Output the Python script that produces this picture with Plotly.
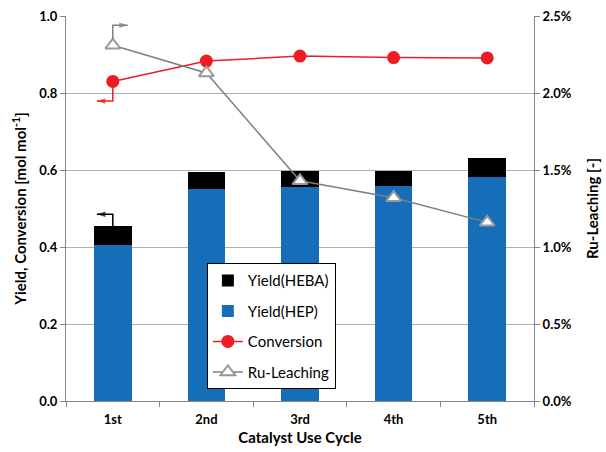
import plotly.graph_objects as go

# Catalyst recycling data
cycles = ["1st", "2nd", "3rd", "4th", "5th"]
yield_hep = [0.405, 0.551, 0.556, 0.559, 0.581]
yield_heba = [0.049, 0.044, 0.041, 0.038, 0.050]
conversion = [0.830, 0.883, 0.896, 0.892, 0.891]
ru_leaching = [0.0231, 0.0213, 0.0143, 0.0132, 0.0116]

left_ticks = [0.0, 0.2, 0.4, 0.6, 0.8, 1.0]
right_ticks = [0.0, 0.005, 0.010, 0.015, 0.020, 0.025]

BLUE = "#176eb8"
RED = "#ed1c24"
GRAY = "#7f7f7f"
FONT = "Lato"

# cycles sit at integer positions on a numeric x-axis labelled with their names
pos = list(range(len(cycles)))
bounds = [p - 0.5 for p in pos] + [pos[-1] + 0.5]

fig = go.Figure()

fig.add_trace(go.Bar(
    x=pos, y=yield_hep, name="Yield(HEP)", marker_color=BLUE,
    marker_line_width=0, width=0.4, legendrank=2, legendgroup="b",
))
fig.add_trace(go.Bar(
    x=pos, y=yield_heba, name="Yield(HEBA)", marker_color="#000000",
    marker_line_width=0, width=0.4, legendrank=1, legendgroup="a",
))
fig.add_trace(go.Scatter(
    x=pos, y=conversion, name="Conversion", mode="lines+markers",
    line=dict(color=RED, width=1.5),
    marker=dict(symbol="circle", size=13, color=RED),
    legendrank=3, legendgroup="c",
))
fig.add_trace(go.Scatter(
    x=pos, y=ru_leaching, name="Ru-Leaching", mode="lines+markers",
    yaxis="y2",
    line=dict(color=GRAY, width=1.5),
    marker=dict(symbol="triangle-up", size=13, color="white",
                line=dict(color="#999999", width=2)),
    legendrank=4, legendgroup="d",
))


# Axis-pointer arrows attached to the first cycle
def pointer(y_start, y_turn, dx, color, yaxis):
    x0 = pos[0]
    fig.add_trace(go.Scatter(
        x=[x0, x0, x0 + dx], y=[y_start, y_turn, y_turn],
        yaxis=yaxis, mode="lines+markers",
        line=dict(color=color, width=1.5),
        marker=dict(symbol="arrow", size=[0, 0, 9], angleref="previous",
                    color=color, line=dict(width=0)),
        showlegend=False, hoverinfo="skip",
    ))


bar_top = yield_hep[0] + yield_heba[0]
pointer(bar_top, bar_top + 0.031, -0.17, "#000000", "y")
pointer(conversion[0] - 0.012, conversion[0] - 0.051, -0.17, RED, "y")
pointer(ru_leaching[0] + 0.0004, ru_leaching[0] + 0.0013, 0.16, GRAY, "y2")

fig.update_layout(
    width=606, height=452,
    margin=dict(l=66, r=72, t=16, b=51),
    barmode="stack",
    plot_bgcolor="white", paper_bgcolor="white",
    font=dict(family=FONT, color="#000000"),
    showlegend=True,
    legend=dict(
        x=0.301, y=0.358, xanchor="left", yanchor="top",
        bgcolor="white", bordercolor="#000000", borderwidth=1,
        font=dict(family=FONT, size=15),
        traceorder="grouped", tracegroupgap=8,
        itemwidth=30,
    ),
    xaxis=dict(
        title=dict(text="<b>Catalyst Use Cycle</b>", font=dict(size=15), standoff=6),
        range=[bounds[0], bounds[-1]],
        tickvals=pos, ticktext=[f"<b>{c}</b>" for c in cycles],
        tickfont=dict(size=13),
        ticklabelstandoff=6,
        ticks="",
        minor=dict(tickvals=bounds, ticks="outside", ticklen=5,
                   tickcolor="#868686", showgrid=False),
        showline=True, linecolor="#868686", linewidth=1,
        showgrid=False, zeroline=False, automargin=False,
    ),
    yaxis=dict(
        title=dict(text="<b>Yield, Conversion [mol mol<sup>-1</sup>]</b>",
                   font=dict(size=15), standoff=8),
        range=[0, 1.0], tickvals=left_ticks,
        ticktext=[f"<b>{v:.1f}</b>" for v in left_ticks],
        tickfont=dict(size=13),
        showline=True, linecolor="#868686", linewidth=1,
        ticks="outside", ticklen=5, tickcolor="#868686",
        showgrid=True, gridcolor="#b0b0b0", gridwidth=1,
        zeroline=False, automargin=False,
    ),
    yaxis2=dict(
        title=dict(text="<b>Ru-Leaching [-]</b>", font=dict(size=15), standoff=16),
        overlaying="y", side="right",
        range=[0, 0.025], tickvals=right_ticks,
        ticktext=[f"<b>{v*100:.1f}%</b>" for v in right_ticks],
        tickfont=dict(size=13),
        showline=True, linecolor="#868686", linewidth=1,
        ticks="outside", ticklen=5, tickcolor="#868686",
        showgrid=False, zeroline=False, automargin=False,
    ),
)

fig.write_html("out.html")
